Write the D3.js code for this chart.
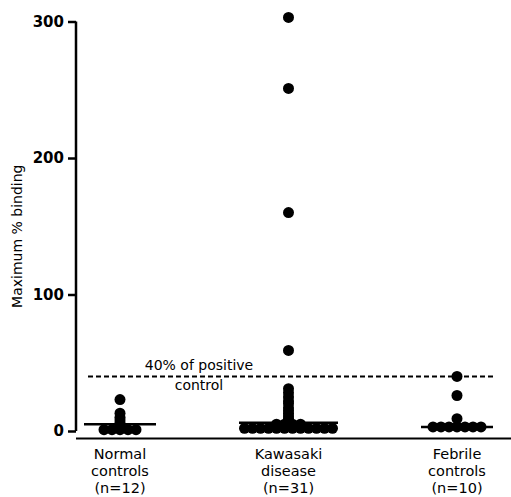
<!DOCTYPE html>
<html>
<head>
<meta charset="utf-8">
<script src="https://cdn.jsdelivr.net/npm/d3@7"></script>
<style>
  body { margin: 0; background: #fff; }
  text { font-family: "DejaVu Sans", sans-serif; fill: #000; }
</style>
</head>
<body>
<div id="chart"></div>
<script>
// data
const categories = ["Normal controls", "Kawasaki disease", "Febrile controls"];
const categoryLines = [["Normal", "controls", "(n=12)"], ["Kawasaki", "disease", "(n=31)"], ["Febrile", "controls", "(n=10)"]];
const normalValues = [23, 13, 10, 8, 6, 4, 3, 1, 1, 1, 1, 1];
const kawasakiValues = [303, 251, 160, 59, 31, 28, 25, 22, 20, 17, 15, 13, 11, 9, 8, 5, 5, 5, 5, 2, 2, 2, 2, 2, 2, 2, 2, 2, 2, 2, 2];
const febrileValues = [40, 26, 9, 3, 3, 3, 3, 3, 3, 3];
const medianValues = [5, 6, 3];
const yTicks = [0, 100, 200, 300];
const cutoff = 40;
const cutoffLabel = ["40% of positive", "control"];

const allValues = [normalValues, kawasakiValues, febrileValues];

const width = 511, height = 497;
const r = 5.5, spacing = 8;

const svg = d3.select("#chart").append("svg")
    .attr("width", width)
    .attr("height", height);

const x = d3.scalePoint().domain(categories).range([120, 457]);
const y = d3.scaleLinear().domain([0, 300]).range([431, 21.5]);

// y axis
const yAxis = svg.append("g")
    .attr("transform", "translate(76,0)")
    .call(d3.axisLeft(y).tickValues(yTicks).tickSize(8).tickSizeOuter(0).tickPadding(4));
yAxis.select(".domain").attr("stroke-width", 2.5).attr("d", `M0,${y(300)}V${y(0)}`);
yAxis.selectAll(".tick line").attr("stroke-width", 2.5);
yAxis.selectAll(".tick text")
    .style("font-family", "'DejaVu Sans', sans-serif")
    .style("font-weight", "bold")
    .style("font-size", "15px")
    .attr("fill", "#000");

// bottom baseline
svg.append("line")
    .attr("x1", 76).attr("x2", 511)
    .attr("y1", 438.5).attr("y2", 438.5)
    .attr("stroke", "#000").attr("stroke-width", 2.2);

// y label
svg.append("text")
    .attr("transform", `translate(22,${(y(300) + y(0)) / 2 + 10}) rotate(-90)`)
    .attr("text-anchor", "middle")
    .style("font-size", "14px")
    .text("Maximum % binding");

// dashed cutoff
svg.append("line")
    .attr("x1", 88).attr("x2", 493)
    .attr("y1", y(cutoff)).attr("y2", y(cutoff))
    .attr("stroke", "#000").attr("stroke-width", 2)
    .attr("stroke-dasharray", "5,3");

const cut = svg.append("text")
    .attr("text-anchor", "middle")
    .style("font-size", "14px");
cut.append("tspan").attr("x", 199).attr("y", y(cutoff) - 6).text(cutoffLabel[0]);
cut.append("tspan").attr("x", 199).attr("y", y(cutoff) + 13.5).text(cutoffLabel[1]);

// dots: equal values spread side by side
categories.forEach(function(cat, i) {
  const counts = d3.rollup(allValues[i], v => v.length, v => v);
  const seen = new Map();
  const pts = allValues[i].map(function(v) {
    const k = counts.get(v);
    const j = seen.get(v) || 0;
    seen.set(v, j + 1);
    return {v: v, dx: (j - (k - 1) / 2) * spacing};
  });
  const maxHalf = d3.max(pts, d => Math.abs(d.dx)) + r;
  const half = Math.max(36, maxHalf);

  svg.append("line")
      .attr("x1", x(cat) - half).attr("x2", x(cat) + half)
      .attr("y1", y(medianValues[i])).attr("y2", y(medianValues[i]))
      .attr("stroke", "#000").attr("stroke-width", 2.5);

  svg.append("g").selectAll("circle")
    .data(pts)
    .join("circle")
      .attr("cx", d => x(cat) + d.dx)
      .attr("cy", d => y(d.v))
      .attr("r", r)
      .attr("fill", "#000");

  // one text per line so they stack cleanly
  categoryLines[i].forEach(function(t, j) {
    svg.append("text")
        .attr("text-anchor", "middle")
        .attr("x", x(cat))
        .attr("y", 459 + j * 17)
        .style("font-size", "14.5px")
        .text(t);
  });
});
</script>
</body>
</html>
